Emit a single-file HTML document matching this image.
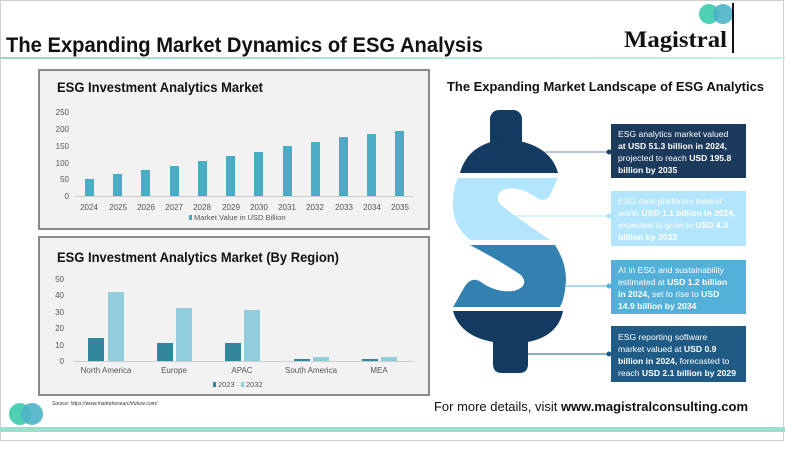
<!DOCTYPE html>
<html><head><meta charset="utf-8"><style>
body{margin:0;width:785px;height:444px;overflow:hidden;background:#fff;font-family:"Liberation Sans",sans-serif}
</style></head><body>
<svg width="785" height="444" xmlns="http://www.w3.org/2000/svg" font-family="Liberation Sans, sans-serif">
<defs>
<linearGradient id="hl" x1="0" x2="1"><stop offset="0" stop-color="#9ad9c8"/><stop offset="1" stop-color="#c9efe4"/></linearGradient>
</defs>
<rect x="0.5" y="0.5" width="783" height="440" fill="#fff" stroke="#cfcfcf"/>
<!-- header -->
<text x="6" y="52" font-size="21" font-weight="bold" fill="#111" textLength="477" lengthAdjust="spacingAndGlyphs">The Expanding Market Dynamics of ESG Analysis</text>
<rect x="0" y="57" width="785" height="2" fill="url(#hl)"/>
<circle cx="709" cy="14" r="10" fill="#4fd0b5"/>
<circle cx="723" cy="14" r="10" fill="#4cb3c6" opacity="0.9"/>
<rect x="732" y="3" width="2" height="50" fill="#111"/>
<text x="624" y="47" font-size="23" font-weight="bold" font-family="Liberation Serif, serif" fill="#111" textLength="103" lengthAdjust="spacingAndGlyphs">Magistral</text>

<!-- panel 1 -->
<rect x="39" y="70" width="390" height="159" fill="#f2f2f2" stroke="#8a8a8a" stroke-width="2"/>
<text x="57" y="92" font-size="14" font-weight="bold" fill="#111" textLength="206" lengthAdjust="spacingAndGlyphs">ESG Investment Analytics Market</text>
<g font-size="8" fill="#555" text-anchor="end">
<text x="69" y="115">250</text><text x="69" y="132">200</text><text x="69" y="149">150</text><text x="69" y="166">100</text><text x="69" y="182">50</text><text x="69" y="199">0</text>
</g>
<line x1="75" y1="196.5" x2="414" y2="196.5" stroke="#ccc"/>
<g fill="#4bacc6">
<rect x="85" y="179" width="9" height="17"/>
<rect x="113" y="174" width="9" height="22"/>
<rect x="141" y="170" width="9" height="26"/>
<rect x="170" y="166" width="9" height="30"/>
<rect x="198" y="161" width="9" height="35"/>
<rect x="226" y="156" width="9" height="40"/>
<rect x="254" y="152" width="9" height="44"/>
<rect x="283" y="146" width="9" height="50"/>
<rect x="311" y="142" width="9" height="54"/>
<rect x="339" y="137" width="9" height="59"/>
<rect x="367" y="134" width="9" height="62"/>
<rect x="395" y="131" width="9" height="65"/>
</g>
<g font-size="8" fill="#555" text-anchor="middle">
<text x="89" y="210">2024</text><text x="118" y="210">2025</text><text x="146" y="210">2026</text><text x="174" y="210">2027</text><text x="202" y="210">2028</text><text x="231" y="210">2029</text><text x="259" y="210">2030</text><text x="287" y="210">2031</text><text x="315" y="210">2032</text><text x="344" y="210">2033</text><text x="372" y="210">2034</text><text x="400" y="210">2035</text>
</g>
<rect x="189" y="215" width="3" height="5" fill="#4bacc6"/>
<text x="194" y="220" font-size="7.5" fill="#555">Market Value in USD Billion</text>

<!-- panel 2 -->
<rect x="39" y="237" width="390" height="158" fill="#f2f2f2" stroke="#8a8a8a" stroke-width="2"/>
<text x="57" y="262" font-size="14" font-weight="bold" fill="#111" textLength="282" lengthAdjust="spacingAndGlyphs">ESG Investment Analytics Market (By Region)</text>
<g font-size="8" fill="#555" text-anchor="end">
<text x="64" y="282">50</text><text x="64" y="298">40</text><text x="64" y="315">30</text><text x="64" y="331">20</text><text x="64" y="348">10</text><text x="64" y="364">0</text>
</g>
<line x1="73" y1="361.5" x2="414" y2="361.5" stroke="#ccc"/>
<g fill="#31859c">
<rect x="88" y="338" width="16" height="23"/>
<rect x="157" y="343" width="16" height="18"/>
<rect x="225" y="343" width="16" height="18"/>
<rect x="294" y="359" width="16" height="2"/>
<rect x="362" y="359" width="16" height="2"/>
</g>
<g fill="#92cddc">
<rect x="108" y="292" width="16" height="69"/>
<rect x="176" y="308" width="16" height="53"/>
<rect x="244" y="310" width="16" height="51"/>
<rect x="313" y="357" width="16" height="4"/>
<rect x="381" y="357" width="16" height="4"/>
</g>
<g font-size="8" fill="#555" text-anchor="middle">
<text x="106" y="373">North America</text><text x="174" y="373">Europe</text><text x="242" y="373">APAC</text><text x="311" y="373">South America</text><text x="379" y="373">MEA</text>
</g>
<rect x="213" y="382" width="3" height="5" fill="#31859c"/>
<text x="218" y="387" font-size="7.5" fill="#555">2023</text>
<rect x="241" y="382" width="3" height="5" fill="#92cddc"/>
<text x="246" y="387" font-size="7.5" fill="#555">2032</text>

<!-- right side -->
<text x="447" y="91" font-size="13" font-weight="bold" fill="#111" textLength="317" lengthAdjust="spacingAndGlyphs">The Expanding Market Landscape of ESG Analytics</text>
<!-- dollar -->
<rect x="490" y="110" width="32" height="40" rx="9" fill="#133b61"/>
<path d="M460,173 Q468,143 506,139 Q550,143 558,173 Z" fill="#133b61"/>
<path d="M458,178 L558,178 L550,195 Q545,203 537,198 Q520,186 505,189 Q492,195 502,206 Q518,218 550,240 L470,240 Q453,226 453,206 Q453,186 458,178 Z" fill="#b3e5fc"/>
<path d="M470,245 L555,245 Q566,262 566,280 Q565,298 560,307 L453,307 L465,286 Q472,276 481,282 Q496,293 514,291 Q530,286 521,275 Q502,262 470,245 Z" fill="#3281b0"/>
<path d="M453,311 L563,311 Q558,336 528,342 L528,364 Q528,373 519,373 L502,373 Q493,373 493,364 L493,342 Q460,336 453,311 Z" fill="#133b61"/>
<!-- connectors -->
<line x1="545" y1="152" x2="609" y2="152" stroke="#6b8fae" stroke-width="1"/><circle cx="609" cy="152" r="2.5" fill="#1b3a5c"/>
<line x1="512" y1="216" x2="609" y2="216" stroke="#b3e5fc" stroke-width="1"/><circle cx="609" cy="216" r="2.5" fill="#b3e5fc"/>
<line x1="566" y1="286" x2="609" y2="286" stroke="#53b0d9" stroke-width="1"/><circle cx="609" cy="286" r="2.5" fill="#53b0d9"/>
<line x1="528" y1="354" x2="609" y2="354" stroke="#1f5b85" stroke-width="1"/><circle cx="609" cy="354" r="2.5" fill="#1f5b85"/>
<!-- boxes -->
<rect x="611" y="124" width="135" height="54" fill="#1b3a5c"/>
<rect x="611" y="191" width="135" height="55" fill="#b3e5fc"/>
<rect x="611" y="260" width="135" height="54" fill="#53b0d9"/>
<rect x="611" y="326" width="135" height="56" fill="#1f5b85"/>
<g font-size="8.6" fill="#fff">
<text x="618" y="137">ESG analytics market valued</text>
<text x="618" y="149" font-weight="bold">at USD 51.3 billion in 2024,</text>
<text x="618" y="161">projected to reach <tspan font-weight="bold">USD 195.8</tspan></text>
<text x="618" y="173" font-weight="bold">billion by 2035</text>
<text x="618" y="204">ESG data platforms market</text>
<text x="618" y="216">worth <tspan font-weight="bold">USD 1.1 billion in 2024,</tspan></text>
<text x="618" y="228">expected to grow to <tspan font-weight="bold">USD 4.3</tspan></text>
<text x="618" y="240" font-weight="bold">billion by 2032</text>
<text x="618" y="273">AI in ESG and sustainability</text>
<text x="618" y="285">estimated at <tspan font-weight="bold">USD 1.2 billion</tspan></text>
<text x="618" y="297"><tspan font-weight="bold">in 2024,</tspan> set to rise to <tspan font-weight="bold">USD</tspan></text>
<text x="618" y="309" font-weight="bold">14.9 billion by 2034</text>
<text x="618" y="340">ESG reporting software</text>
<text x="618" y="352">market valued at <tspan font-weight="bold">USD 0.9</tspan></text>
<text x="618" y="364"><tspan font-weight="bold">billion in 2024,</tspan> forecasted to</text>
<text x="618" y="376">reach <tspan font-weight="bold">USD 2.1 billion by 2029</tspan></text>
</g>
<!-- footer -->
<text x="434" y="411" font-size="13" fill="#111" textLength="314" lengthAdjust="spacingAndGlyphs">For more details, visit <tspan font-weight="bold">www.magistralconsulting.com</tspan></text>
<text x="52" y="405" font-size="5" font-style="italic" fill="#333">Source: https://www.marketresearchfuture.com/</text>
<circle cx="20" cy="414" r="11" fill="#4fd0b5"/>
<circle cx="32" cy="414" r="11" fill="#4cb3c6" opacity="0.9"/>
<rect x="0" y="427" width="785" height="5" fill="#99dfcc"/>
</svg>
</body></html>
